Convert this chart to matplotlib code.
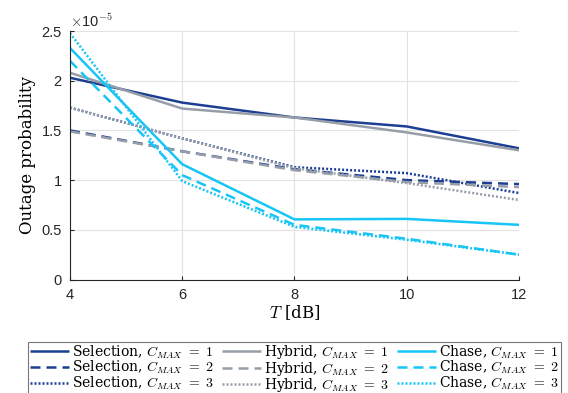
import matplotlib.pyplot as plt
from matplotlib.ticker import FuncFormatter

plt.rcParams.update({'font.family': 'sans-serif',
                     'font.sans-serif': ['Liberation Sans', 'DejaVu Sans'],
                     'mathtext.fontset': 'cm'})

# threshold T [dB] and outage probabilities (x1e-5)
T = [4, 6, 8, 10, 12]
sel_c1 = [2.03, 1.78, 1.63, 1.54, 1.32]
sel_c2 = [1.50, 1.29, 1.11, 1.00, 0.96]
sel_c3 = [1.73, 1.42, 1.13, 1.07, 0.87]
hyb_c1 = [2.08, 1.72, 1.63, 1.48, 1.30]
hyb_c2 = [1.49, 1.29, 1.10, 0.98, 0.93]
hyb_c3 = [1.73, 1.42, 1.12, 0.97, 0.80]
cha_c1 = [2.33, 1.16, 0.605, 0.61, 0.55]
cha_c2 = [2.20, 1.05, 0.55, 0.41, 0.25]
cha_c3 = [2.48, 0.99, 0.53, 0.40, 0.25]

navy = '#1c3f94'
gray = '#979ea8'
cyan = '#17c5f6'
styles = {1: (0, ()), 2: (0, (4, 2.4)), 3: (0, (0.8, 0.8))}

series = [
    ('Selection', 1, sel_c1, navy),
    ('Selection', 2, sel_c2, navy),
    ('Selection', 3, sel_c3, navy),
    ('Hybrid', 1, hyb_c1, gray),
    ('Hybrid', 2, hyb_c2, gray),
    ('Hybrid', 3, hyb_c3, gray),
    ('Chase', 1, cha_c1, cyan),
    ('Chase', 2, cha_c2, cyan),
    ('Chase', 3, cha_c3, cyan),
]

fig = plt.figure(figsize=(5.68, 3.93), dpi=100)
ax = fig.add_axes([0.1232, 0.2888, 0.7905, 0.6322])

for name, c, vals, col in series:
    ax.plot(T, vals, color=col, linestyle=styles[c], linewidth=1.8,
            dash_capstyle='butt', label=f'{name}, $C_{{MAX}}\\ =\\ {c}$')

ax.set_xlim(4, 12)
ax.set_ylim(0, 2.5)
ax.set_xticks([4, 6, 8, 10, 12])
ax.set_yticks([0, 0.5, 1, 1.5, 2, 2.5])
ax.yaxis.set_major_formatter(FuncFormatter(lambda v, p: f'{v:g}'))
ax.grid(True, color='#e2e2e2', linewidth=0.8)
ax.set_axisbelow(True)
for s in ['top', 'right']:
    ax.spines[s].set_visible(False)
for s in ['left', 'bottom']:
    ax.spines[s].set_color('#262626')
ax.tick_params(direction='in', length=3, labelsize=10.5, colors='#262626', pad=6)

ax.text(0.0, 1.005, r'$\times$10$^{-5}$', transform=ax.transAxes, fontsize=10.5,
        ha='left', va='bottom', color='#262626')

ax.set_xlabel('$T$ [dB]', fontsize=12, family='DejaVu Serif', labelpad=1)
ax.set_ylabel('Outage probability', fontsize=12, family='DejaVu Serif', labelpad=4)

leg = fig.legend(ncol=3, loc='upper center',
                 bbox_to_anchor=(0.5185, 0.131), frameon=True, fancybox=False,
                 edgecolor='#555555', handlelength=2.8,
                 handletextpad=0.2, columnspacing=0.6, labelspacing=-0.12,
                 borderpad=0.12, borderaxespad=0,
                 prop={'family': 'DejaVu Serif', 'size': 10.0})
leg.get_frame().set_linewidth(0.8)

fig.savefig('out.png', dpi=100)
